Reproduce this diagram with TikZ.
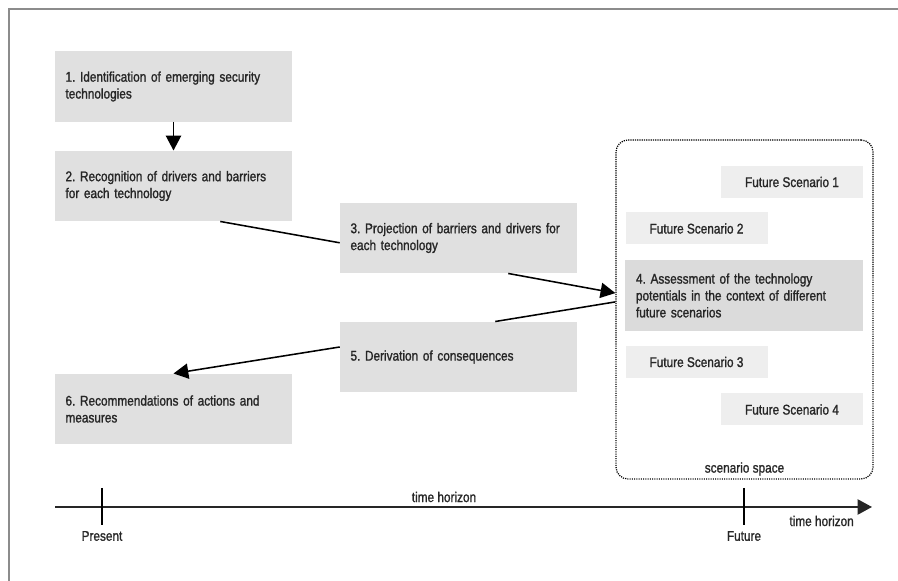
\documentclass[tikz,border=0pt]{standalone}
\usepackage{fontspec}
\setmainfont{Liberation Sans}[FakeStretch=0.84,FakeBold=1.3]
\usetikzlibrary{positioning,arrows.meta,calc}
\definecolor{cbox}{HTML}{E0E0E0}
\definecolor{cscen}{HTML}{EEEEEE}
\definecolor{cmid}{HTML}{DBDBDB}
\definecolor{ctext}{HTML}{262626}
\definecolor{cframe}{HTML}{8C8C8C}
\tikzset{
  stage/.style ={draw=none,fill=cbox,text=ctext,font=\fontsize{10}{12}\selectfont,
                 minimum width=5.925cm,minimum height=1.76cm,text width=5.4cm,
                 align=left,inner sep=0pt},
  scen/.style  ={draw=none,fill=cscen,text=ctext,font=\fontsize{10}{12}\selectfont,
                 minimum width=3.55cm,minimum height=0.8cm,inner sep=0pt},
  space/.style ={draw=black,line width=0.9pt,dash pattern=on 0.8pt off 0.8pt,
                 rounded corners=0.3cm,minimum width=6.425cm,minimum height=8.475cm},
  lbl/.style   ={text=ctext,font=\fontsize{10}{12}\selectfont,inner sep=1pt},
  arr/.style   ={-{Triangle[length=0.37cm,width=0.38cm]},line width=1.1pt,black},
  ln/.style    ={line width=1.1pt,black},
  timeax/.style={-{Triangle[length=0.36cm,width=0.38cm]},line width=1.3pt,black!85},
  tick/.style  ={line width=1.1pt,black},
  frame/.style ={cframe,line width=0.8pt},
}
\frenchspacing

\begin{document}
\begin{tikzpicture}
 \useasboundingbox (0,0) rectangle (22.45,14.525);
 \draw[frame] (0.225,0) -- (0.225,14.3) -- (22.45,14.3);
 \node[stage] (s1) at (4.3375,12.3625) {1. Identification of emerging security\\technologies};
 \node[stage] (s2) at (4.3375,9.875) {2. Recognition of drivers and barriers\\for each technology};
 \node[stage] (s3) at (11.4625,8.575) {3. Projection of barriers and drivers for\\each technology};
 \node[stage] (s5) at (11.4625,5.6) {5. Derivation of consequences\\[0.3cm]};
 \node[stage] (s6) at (4.3375,4.3) {6. Recommendations of actions and\\measures};
 \node[space] (space) at (18.6125,6.7875) {};
 \node[scen] (fs1) at (19.8,9.975) {Future Scenario 1};
 \node[scen] (fs2) at (17.4125,8.8125) {Future Scenario 2};
 \node[stage,fill=cmid,minimum width=5.95cm] (s4) at (18.6,7.1375)
   {4. Assessment of the technology\\potentials in the context of different\\future scenarios};
 \node[scen] (fs3) at (17.4125,5.475) {Future Scenario 3};
 \node[scen] (fs4) at (19.8,4.2875) {Future Scenario 4};
 \node[lbl,anchor=south] (spacelbl) at ([yshift=0.06cm]space.south) {scenario space};
 \coordinate (in4) at (space.west |- s4.center);
 \draw[arr] (s1.south) -- (s2.north);
 \draw[ln] ([xshift=-1.8cm]s2.south east) -- ([yshift=-0.12cm]s3.west);
 \draw[arr] ([xshift=-1.725cm]s3.south east) -- ([yshift=0.06cm]in4);
 \draw[ln] ([yshift=-0.16cm]in4) -- ([xshift=-2.05cm]s5.north east);
 \draw[arr] ([yshift=0.25cm]s5.west) -- (s6.north);
 \coordinate (t0) at (1.375,1.85);
 \coordinate (t1) at (21.8,1.85);
 \coordinate (pr) at (2.55,1.85);
 \coordinate (fu) at (18.6,1.85);
 \draw[timeax] (t0) -- (t1);
 \draw[tick] ([yshift=0.475cm]pr) -- ([yshift=-0.45cm]pr);
 \draw[tick] ([yshift=0.475cm]fu) -- ([yshift=-0.45cm]fu);
 \node[lbl] (present) at (2.55,1.125) {Present};
 \node[lbl] (future) at (18.6,1.125) {Future};
 \node[lbl] (th1) at (11.1,2.1) {time horizon};
 \node[lbl] (th2) at (20.54,1.5) {time horizon};
\end{tikzpicture}
\end{document}
